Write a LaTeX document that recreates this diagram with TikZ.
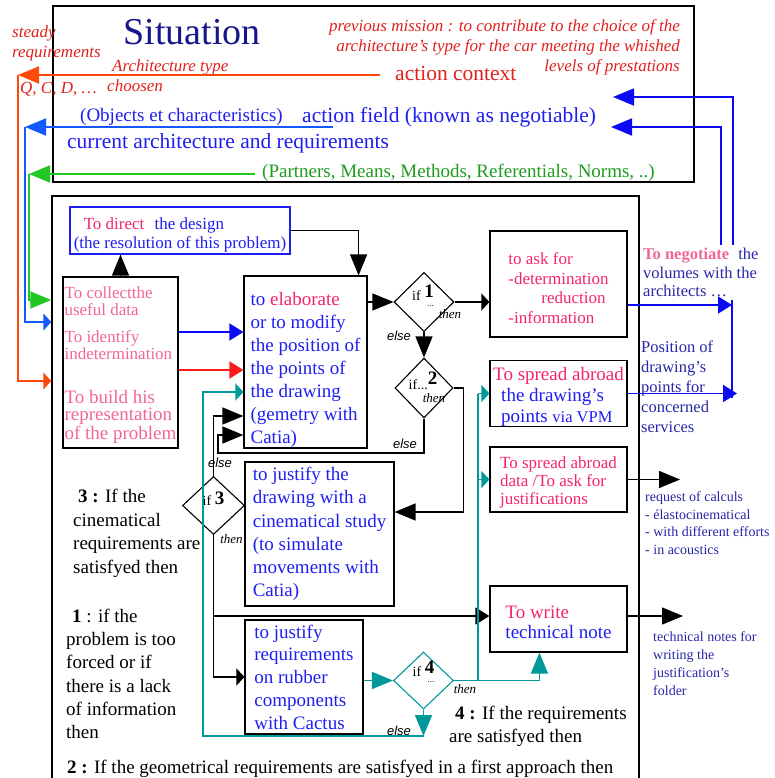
\documentclass[tikz,border=0pt]{standalone}
\usepackage{fontspec}
\setmainfont{Liberation Serif}
\setsansfont{Liberation Sans}
\usetikzlibrary{arrows.meta,shapes.geometric,calc}
\definecolor{cNavy}{HTML}{16168C}
\definecolor{cBlue}{HTML}{1E1EF0}
\definecolor{cPink}{HTML}{F5246E}
\definecolor{cPinkL}{HTML}{F2649A}
\definecolor{cRed}{HTML}{E0201E}
\definecolor{cOrange}{HTML}{FF4A0A}
\definecolor{cField}{HTML}{1458FF}
\definecolor{cGreen}{HTML}{1E9B1E}
\definecolor{cGreenL}{HTML}{22C822}
\definecolor{cTeal}{HTML}{00999A}
\definecolor{cNote}{HTML}{2626A6}
\definecolor{cLine}{HTML}{0A0AF5}
\definecolor{cRedL}{HTML}{FF1A1A}
\newcommand\fsz[2]{\fontsize{#1}{#2}\selectfont}
\newcommand\toppad[1]{\rule{0pt}{#1}}
\tikzset{
  frame/.style={draw, line width=1.5pt, inner sep=0pt},
  box/.style={draw, line width=1.2pt, inner sep=0pt, align=left, text=cBlue},
  cond/.style={diamond, draw, line width=1.1pt, inner sep=0pt, minimum width=60pt, minimum height=59pt},
  lbl/.style={inner sep=0pt},
  txt/.style={inner sep=0pt, align=left, anchor=north west},
  ifl/.style={lbl, font=\fsz{14}{14}},
  thn/.style={lbl, font=\fsz{13}{13}\itshape},
  els/.style={lbl, font=\fsz{13}{13}\sffamily\itshape},
  wire/.style={draw=black, line width=1.3pt},
  twire/.style={draw=cTeal, line width=1.5pt},
  oline/.style={draw=cOrange, line width=2pt},
  fline/.style={draw=cField, line width=2pt},
  gline/.style={draw=cGreenL, line width=2pt},
  bline/.style={draw=cLine, line width=1.8pt},
  rline/.style={draw=cRedL, line width=1.8pt},
  headL/.style={-{Triangle[length=21pt,width=17pt]}},
  headM/.style={-{Triangle[length=14pt,width=17pt]}},
  headS/.style={-{Triangle[length=8pt,width=17pt]}}
}

\begin{document}
\begin{tikzpicture}[x=1pt,y=-1pt]
\useasboundingbox (0,0) rectangle (774,778);
\clip (0,0) rectangle (774,778);

% situation frame
\node[frame, line width=1.8pt, minimum width=641pt, minimum height=176pt] (sit) at (373.5,94) {};
\node[lbl, anchor=base, text=cNavy, font=\fsz{38}{38}] (title) at (192,45) {Situation};
\node[txt, text=cRed, font=\fsz{17}{20}\itshape] (steady) at (12,26) {steady\\requirements};
\node[txt, anchor=north east, align=right, text=cRed, font=\fsz{17}{20}\itshape] (mission) at (680,19)
  {previous mission : to contribute to the choice of the\\ architecture's type for the car meeting the whished\\ levels of prestations};
\node[txt, text=cRed, font=\fsz{17}{20}\itshape] (archtype) at (107,60) {\hspace*{5pt}Architecture type\\ choosen};
\node[lbl, anchor=base west, text=cRed, font=\fsz{17}{20}\itshape] (qcd) at (20,94) {Q, C, D, \dots};
\node[lbl, anchor=base west, text=cRed, font=\fsz{21.5}{24}] (ctx) at (395,81) {action context};
\node[lbl, anchor=base west, text=cBlue, font=\fsz{19}{22}] (objects) at (80,122) {(Objects et characteristics)};
\node[lbl, anchor=base west, text=cBlue, font=\fsz{21.5}{24}] (field) at (302,123) {action field (known as negotiable)};
\node[lbl, anchor=base west, text=cBlue, font=\fsz{21.5}{24}] (current) at (67,149) {current architecture and requirements};
\node[lbl, anchor=base west, text=cGreen, font=\fsz{19}{22}] (norms) at (262,178) {(Partners, Means, Methods, Referentials, Norms, ..)};

% work frame and boxes
\node[frame, minimum width=587pt, minimum height=604pt] (work) at (345.5,498) {};
\node[box, draw=cBlue, minimum width=220pt, minimum height=47pt, font=\fsz{17}{19}] (direct) at (180,230.5)
  {\toppad{20pt}\hspace*{10pt}\textcolor{cPink}{To direct}\hspace{6pt} the design\\ (the resolution of this problem)};
\node[box, minimum width=115pt, minimum height=171pt, text=cPinkL, font=\fsz{17}{17}] (collect) at (120.5,362.5)
  {\toppad{17pt}To collectthe\\ useful data\\[10pt] To identify\\ indetermination\\[27pt] \fsz{19}{17}To build his\\ \fsz{19}{17}representation\\ \fsz{19}{17}of the problem};
\node[box, minimum width=123pt, minimum height=172pt, font=\fsz{19}{23}] (elab) at (305.5,362)
  {\toppad{29pt}to \textcolor{cPink}{elaborate}\\ or to modify\\ the position of\\ the points of\\ the drawing\\ (gemetry with\\ Catia)};
\node[box, minimum width=137pt, minimum height=106pt, text=cPink, font=\fsz{17}{19.7}] (ask) at (558.5,284)
  {\toppad{20pt}to ask for\\ -determination\\ \hspace*{33pt}reduction\\ -information};
\node[box, minimum width=137pt, minimum height=65pt, font=\fsz{19}{21}] (spread) at (558.5,393.5)
  {\toppad{19.5pt}\textcolor{cPink}{To spread abroad}\\ \hspace*{8pt}the drawing's\\ \hspace*{8pt}points {\fsz{16.5}{21}via VPM}};
\node[box, minimum width=137pt, minimum height=65pt, text=cPink, font=\fsz{17}{18}] (spreaddata) at (558.5,479.5)
  {\toppad{18pt}To spread abroad\\ data /To ask for\\ justifications};
\node[box, minimum width=137pt, minimum height=66pt, font=\fsz{19}{20}] (write) at (558.5,619)
  {\toppad{19.5pt}\textcolor{cPink}{To write}\\ technical note};
\node[box, minimum width=149pt, minimum height=144pt, font=\fsz{19}{23.2}] (justify) at (319.5,534)
  {to justify the\\ drawing with a\\ cinematical study\\ (to simulate\\ movements with\\ Catia)};
\node[box, minimum width=118pt, minimum height=114pt, font=\fsz{19}{22.75}] (rubber) at (304,677)
  {to justify\\ requirements\\ on rubber\\ components\\ with Cactus};

% tests
\node[cond] (d1) at (424,302) {};
\node[cond, minimum width=58pt, minimum height=60pt] (d2) at (424,388) {};
\node[cond, minimum width=62pt, minimum height=58pt] (d3) at (213.5,505.5) {};
\node[cond, draw=cTeal, minimum height=57pt] (d4) at (423.5,680.5) {};

\node[ifl] (d1lbl) at ($(d1)+(-1,-6)$) {if \raisebox{3pt}{\fsz{19}{19}\bfseries 1}\llap{\raisebox{-6pt}{\fsz{9}{9}...}}};
\node[thn] (d1then) at ($(d1)+(26,12)$) {then};
\node[els] (d1else) at ($(d1)+(-25,34)$) {else};

\node[ifl] (d2lbl) at ($(d2)+(-1,-7)$) {if...\raisebox{5pt}{\fsz{19}{19}\bfseries 2}};
\node[thn] (d2then) at ($(d2)+(10,10)$) {then};
\node[els] (d2else) at ($(d2)+(-19,56)$) {else};

\node[ifl] (d3lbl) at ($(d3)+(0,-7)$) {if \raisebox{1pt}{\fsz{19}{19}\bfseries 3}};
\node[els] (d3else) at ($(d3)+(6.5,-42.5)$) {else};
\node[thn] (d3then) at ($(d3)+(18,34)$) {then};

\node[ifl] (d4lbl) at ($(d4)+(0,-9)$) {if \raisebox{3pt}{\fsz{19}{19}\bfseries 4}\llap{\raisebox{-6pt}{\fsz{9}{9}...}}};
\node[thn] (d4then) at ($(d4)+(41.5,9)$) {then};
\node[els] (d4else) at ($(d4)+(-24.5,50)$) {else};

% notes
\node[txt, font=\fsz{19}{23.5}] (three) at (73,489) {\hspace*{5pt}\textbf{3 :} If the\\ cinematical\\ requirements are\\ satisfyed then};
\node[txt, font=\fsz{19}{23.2}] (one) at (66,609) {\hspace*{6pt}\textbf{1} : if the\\ problem is too\\ forced or if\\ there is a lack\\ of information\\ then};
\node[lbl, anchor=base west, font=\fsz{19}{23}] (two) at (67,773) {\textbf{2 :} If the geometrical requirements are satisfyed in a first approach then};
\node[txt, font=\fsz{19}{23}] (four) at (449,706) {\hspace*{6pt}\textbf{4 :} If the requirements\\ are satisfyed then};
\node[txt, text=cNote, font=\fsz{16.5}{18.5}] (nego) at (643,248) {\textcolor{cPinkL}{\bfseries To negotiate}\hspace{5pt} the\\ volumes with the\\ architects \dots};
\node[txt, text=cNote, font=\fsz{16.5}{20}] (position) at (641,341) {Position of\\ drawing's\\ points for\\ concerned\\ services};
\node[txt, text=cNote, font=\fsz{14}{17.6}] (request) at (645,491.5) {request of calculs\\ - élastocinematical\\ - with different efforts\\ - in acoustics};
\node[txt, text=cNote, font=\fsz{14}{18}] (notes) at (653,631.5) {technical notes for\\ writing the\\ justification's\\ folder};

% free ends
\coordinate (ctxR) at (380,75);
\coordinate (ctxL) at (18,75);
\coordinate (fieldR) at (333,127);
\coordinate (fieldL) at (25,127);
\coordinate (normsR) at (255,174);
\coordinate (normsL) at (29,174);
\coordinate (upA) at (733,245);
\coordinate (upB) at (721,245);
\coordinate (inA) at (613,97);
\coordinate (inB) at (611,127);
\coordinate (colT) at (732,300);
\coordinate (colE) at (732,398);
\coordinate (colA) at (732,305);
\coordinate (colB) at (737,393.5);
\coordinate (tx) at (478,0);
\coordinate (tl) at (203,392);
\coordinate (calcOut) at (680,0);
\coordinate (noteOut) at (683,0);

% inputs of the situation
\draw[oline, headL] (ctxR) -- (ctxL);
\draw[oline, headS] (ctxL) |- (work.west |- 0,381);
\draw[fline, headL] (fieldR) -- (fieldL);
\draw[fline, headS] (fieldL) |- (work.west |- 0,322);
\draw[gline, headL] (normsR) -- (normsL);
\draw[gline, headL] (normsL) |- (work.west |- 0,300);
\draw[bline, headL] (upA) |- (inA);
\draw[bline, headL] (upB) |- (inB);
\draw[bline] (colT) -- (colE);
\draw[bline, headM] (ask.east |- colA) -- (colA);
\draw[bline, headM] (spread.east) -- (colB);

% flow
\draw[wire, headL] (collect.north) -- (collect.north |- direct.south);
\draw[wire, headL] (direct.east) -| ($(elab.north east)+(-9,0)$);
\draw[bline, headM] (collect.east |- 0,332) -- (elab.west |- 0,332);
\draw[rline, headM] (collect.east |- 0,370) -- (elab.west |- 0,370);
\draw[wire, headL] (elab.east |- d1.west) -- (d1.west);
\draw[wire, headS] (d1.east) -- (d1.east -| ask.west);
\draw[wire, headL] (d1.south) -- (d2.north);
\draw[wire, headL] (d2.east) -- ++(10,0) |- (justify.east |- 0,512);
\draw[wire, headL] (d2.south) |- (218,453) |- (elab.west |- 0,435);
\draw[wire, headL] (d3.north) |- (elab.west |- 0,416);
\draw[wire, headS] (d3.south) |- (rubber.west);
\draw[wire, headM] (d3.south |- 0,616) -- (write.west |- 0,616);
\draw[twire, headL] (rubber.east |- d4.west) -- (d4.west);
\draw[twire, headL] (d4.east) -| ($(write.south west)+(50,0)$);
\draw[twire] (d4.east -| tx) -- (spread.west -| tx);
\draw[twire, headS] (spread.west -| tx) -- (spread.west);
\draw[twire, headS] (spreaddata.west -| tx) -- (spreaddata.west);
\draw[twire, headL] (d4.south) -- (d4.south |- 0,736);
\draw[twire, headS] (d4.south |- 0,736) -| (tl) -- (elab.west |- tl);
\draw[wire, headL] (spreaddata.east) -- (spreaddata.east -| calcOut);
\draw[wire, headL] (write.east |- 0,616) -- (noteOut |- 0,616);
\end{tikzpicture}
\end{document}
